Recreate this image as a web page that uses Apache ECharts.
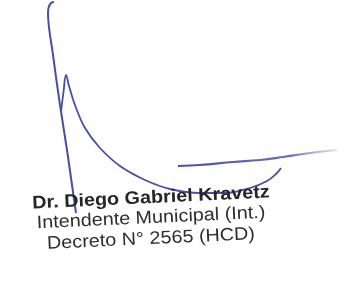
<!DOCTYPE html>
<html>
<head>
<meta charset="utf-8">
<script src="https://cdn.jsdelivr.net/npm/echarts@6/dist/echarts.min.js"></script>
<style>
  html, body { margin: 0; padding: 0; background: #fff; }
  #main { width: 344px; height: 286px; }
</style>
</head>
<body>
<div id="main"></div>
<script>
// strokes of the signature (x, y in pixels, y going down)
var strokeLongX = [54, 51, 48.5, 48, 53, 60, 67, 73, 76];
var strokeLongY = [2, 3, 8, 14, 55, 105, 150, 192, 213];

var strokeLoopX = [61, 63.5, 66, 69, 75, 85, 100, 120, 145, 170, 200, 225, 250, 267, 277, 281];
var strokeLoopY = [112, 92, 75, 86, 105, 128, 148, 166, 180, 189, 193, 193, 188, 181, 173, 168];

var strokeFlatX = [178, 200, 233, 260, 283, 310, 337];
var strokeFlatY = [166, 165, 162, 160, 157, 153, 150];

var signerLines = [
    'Dr. Diego Gabriel Kravetz',
    'Intendente Municipal (Int.)',
    'Decreto N\u00b0 2565 (HCD)'
];

function pairs(xs, ys) {
    return xs.map(function (x, i) { return [x, ys[i]]; });
}

var inkColor = '#4a50a0';

var myChart = echarts.init(document.getElementById('main'));

var option = {
    backgroundColor: '#ffffff',
    animation: false,
    grid: { left: 0, right: 0, top: 0, bottom: 0 },
    xAxis: { type: 'value', min: 0, max: 344, show: false },
    yAxis: { type: 'value', min: 0, max: 286, inverse: true, show: false },
    series: [
        {
            type: 'line', smooth: 0.3, symbol: 'none',
            lineStyle: { color: inkColor, width: 2 },
            data: pairs(strokeLongX, strokeLongY)
        },
        {
            type: 'line', smooth: 0.4, symbol: 'none',
            lineStyle: { color: inkColor, width: 1.8 },
            data: pairs(strokeLoopX, strokeLoopY)
        },
        {
            type: 'line', smooth: 0.4, symbol: 'none',
            lineStyle: {
                width: 2.2,
                color: new echarts.graphic.LinearGradient(0, 0, 1, 0, [
                    { offset: 0, color: inkColor },
                    { offset: 0.7, color: '#6a70b8' },
                    { offset: 1, color: 'rgba(160,165,210,0.3)' }
                ])
            },
            data: pairs(strokeFlatX, strokeFlatY)
        }
    ],
    graphic: [
        {
            type: 'text', x: 151, y: 198, rotation: 0.047, scaleX: 1.1, z: 10,
            style: {
                text: signerLines[0], align: 'center', verticalAlign: 'middle',
                font: 'bold 18px "Liberation Sans", Arial, sans-serif', fill: '#262626'
            }
        },
        {
            type: 'text', x: 151, y: 218, rotation: 0.047, scaleX: 1.1, z: 10,
            style: {
                text: signerLines[1], align: 'center', verticalAlign: 'middle',
                font: '18px "Liberation Sans", Arial, sans-serif', fill: '#2e2e2e'
            }
        },
        {
            type: 'text', x: 151, y: 239, rotation: 0.047, scaleX: 1.1, z: 10,
            style: {
                text: signerLines[2], align: 'center', verticalAlign: 'middle',
                font: '18px "Liberation Sans", Arial, sans-serif', fill: '#2e2e2e'
            }
        }
    ]
};

myChart.setOption(option);
</script>
</body>
</html>
